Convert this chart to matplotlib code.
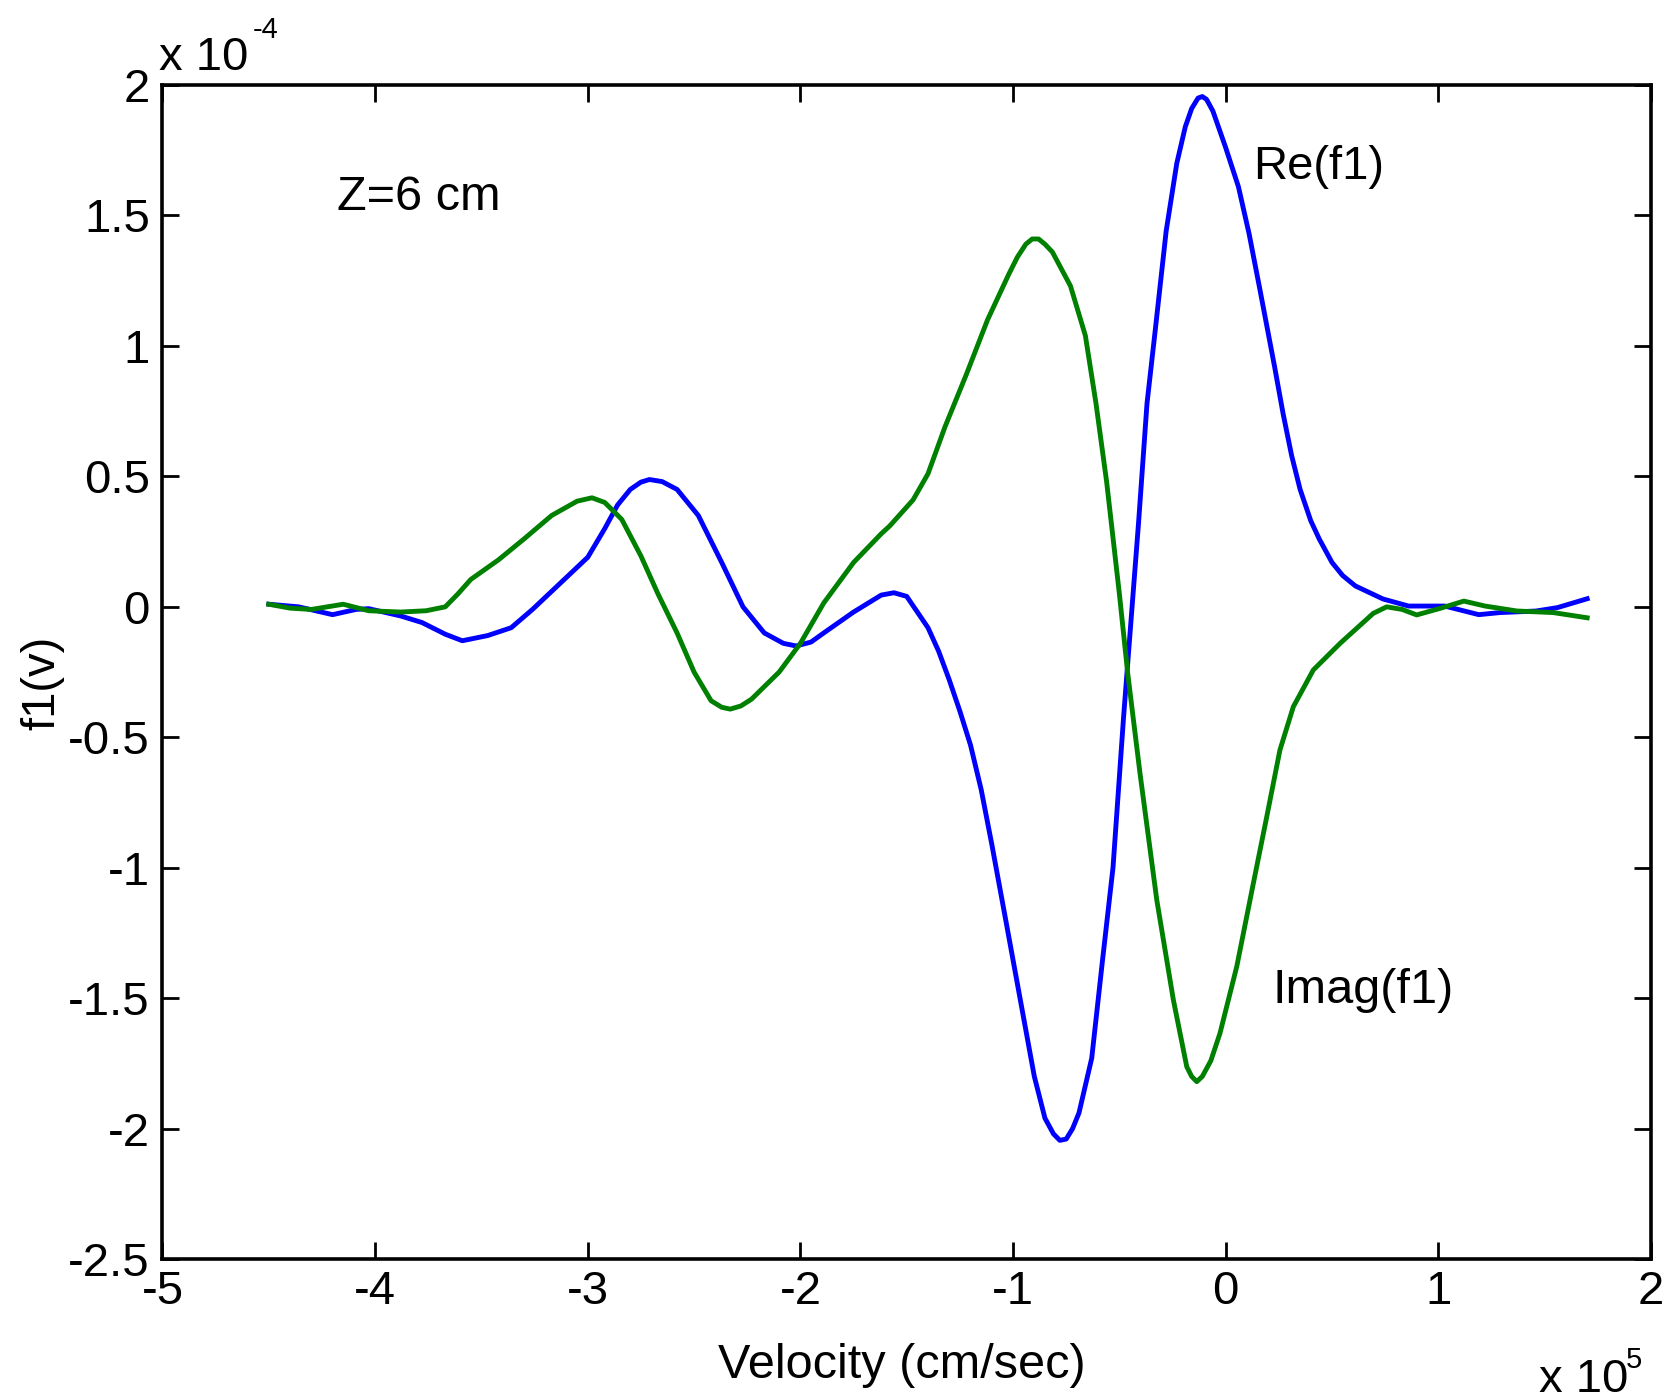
import matplotlib
matplotlib.use('Agg')
import matplotlib.pyplot as plt

plt.rcParams['font.family'] = ['Liberation Sans', 'DejaVu Sans']

## Data (velocity in units of 1e5 cm/sec, f1 in units of 1e-4)
v_re = [-4.50, -4.36, -4.20, -4.09, -4.03, -3.88, -3.78, -3.67, -3.59, -3.47,
        -3.36, -3.26, -3.13, -3.00, -2.92, -2.86, -2.80, -2.75, -2.71, -2.65,
        -2.58, -2.48, -2.37, -2.27, -2.17, -2.08, -2.02, -1.95, -1.89, -1.75,
        -1.62, -1.56, -1.50, -1.45, -1.40, -1.35, -1.30, -1.25, -1.20, -1.15,
        -1.10, -1.03, -0.965, -0.90, -0.85, -0.81, -0.78, -0.75, -0.72, -0.69,
        -0.63, -0.58, -0.53, -0.48, -0.445, -0.41, -0.37, -0.33, -0.28, -0.23,
        -0.19, -0.16, -0.13, -0.11, -0.09, -0.06, -0.03, 0.00, 0.06, 0.11,
        0.16, 0.23, 0.27, 0.31, 0.35, 0.40, 0.44, 0.50, 0.55, 0.61,
        0.74, 0.86, 1.03, 1.19, 1.29, 1.46, 1.56, 1.70]
re_f1 = [0.01, 0.00, -0.03, -0.01, -0.007, -0.035, -0.06, -0.105, -0.13, -0.11,
         -0.08, -0.01, 0.09, 0.19, 0.30, 0.39, 0.45, 0.478, 0.488, 0.48,
         0.45, 0.35, 0.17, 0.00, -0.10, -0.14, -0.15, -0.135, -0.10, -0.02,
         0.045, 0.054, 0.04, -0.02, -0.08, -0.17, -0.28, -0.40, -0.53, -0.70,
         -0.91, -1.22, -1.51, -1.80, -1.96, -2.02, -2.045, -2.04, -2.00, -1.94,
         -1.73, -1.36, -1.00, -0.42, -0.05, 0.32, 0.78, 1.07, 1.44, 1.70,
         1.84, 1.91, 1.95, 1.956, 1.945, 1.90, 1.83, 1.76, 1.61, 1.43,
         1.22, 0.92, 0.74, 0.58, 0.45, 0.33, 0.26, 0.17, 0.12, 0.08,
         0.03, 0.003, 0.003, -0.03, -0.022, -0.016, -0.003, 0.031]

v_im = [-4.50, -4.40, -4.30, -4.15, -4.03, -3.88, -3.76, -3.67, -3.61, -3.55,
        -3.42, -3.30, -3.17, -3.05, -2.98, -2.92, -2.84, -2.75, -2.67, -2.58,
        -2.50, -2.42, -2.37, -2.33, -2.28, -2.23, -2.10, -2.00, -1.89, -1.75,
        -1.62, -1.58, -1.47, -1.40, -1.32, -1.22, -1.12, -1.02, -0.98, -0.94,
        -0.91, -0.88, -0.85, -0.815, -0.73, -0.66, -0.61, -0.56, -0.50, -0.46,
        -0.403, -0.324, -0.246, -0.183, -0.16, -0.136, -0.11, -0.07, -0.027, 0.052,
        0.130, 0.193, 0.255, 0.318, 0.412, 0.538, 0.694, 0.757, 0.83, 0.898,
        1.008, 1.12, 1.22, 1.37, 1.54, 1.70]
im_f1 = [0.01, -0.005, -0.01, 0.01, -0.015, -0.02, -0.015, 0.00, 0.05, 0.105,
         0.18, 0.26, 0.35, 0.405, 0.418, 0.40, 0.335, 0.195, 0.05, -0.10,
         -0.25, -0.36, -0.385, -0.392, -0.38, -0.354, -0.25, -0.14, 0.015, 0.17,
         0.28, 0.31, 0.41, 0.51, 0.69, 0.89, 1.10, 1.275, 1.34, 1.39,
         1.41, 1.41, 1.39, 1.36, 1.23, 1.04, 0.78, 0.48, 0.05, -0.26,
         -0.638, -1.124, -1.507, -1.763, -1.80, -1.82, -1.80, -1.74, -1.635, -1.379,
         -1.06, -0.805, -0.549, -0.383, -0.242, -0.14, -0.025, 0.00, -0.01, -0.031,
         -0.006, 0.022, 0.003, -0.016, -0.022, -0.042]

x_ticks = [-5, -4, -3, -2, -1, 0, 1, 2]
y_ticks = [-2.5, -2, -1.5, -1, -0.5, 0, 0.5, 1, 1.5, 2]


## Plot
fig = plt.figure(figsize=(16.68, 13.92), dpi=100)
ax = fig.add_axes([0.0974, 0.0955, 0.8924, 0.8434])

ax.plot(v_re, re_f1, color=(0, 0, 1), lw=3.5)
ax.plot(v_im, im_f1, color=(0, 0.5, 0), lw=3.5)

ax.set_xlim(-5, 2)
ax.set_ylim(-2.5, 2)
ax.set_xticks(x_ticks)
ax.set_yticks(y_ticks)
ax.set_xticklabels(['%g' % t for t in x_ticks])
ax.set_yticklabels(['%g' % t for t in y_ticks])
ax.tick_params(direction='in', length=12, width=2, labelsize=34,
               top=True, right=True)
ax.tick_params(axis='y', pad=9)
ax.tick_params(axis='x', pad=8)
for sp in ax.spines.values():
    sp.set_linewidth(2.6)

ax.set_xlabel('Velocity (cm/sec)', fontsize=35)
ax.xaxis.set_label_coords(0.497, -0.1015)
ax.xaxis.label.set_va('baseline')
ax.set_ylabel('f1(v)', fontsize=34)
ax.yaxis.set_label_coords(-0.066, 0.4906)

# Annotations
ax.text(-4.177, 1.52, 'Z=6 cm', fontsize=35, va='baseline', ha='left')
ax.text(0.13, 1.641, 'Re(f1)', fontsize=34, va='baseline', ha='left')
ax.text(0.22, -1.52, 'Imag(f1)', fontsize=35, va='baseline', ha='left')

# MATLAB style exponent labels
ax.text(-0.002, 1.0128, 'x 10', transform=ax.transAxes, fontsize=34,
        ha='left', va='baseline')
ax.text(0.0608, 1.040, '-4', transform=ax.transAxes, fontsize=21,
        ha='left', va='baseline')
ax.text(0.9245, -0.1135, 'x 10', transform=ax.transAxes, fontsize=34,
        ha='left', va='baseline')
ax.text(0.983, -0.0928, '5', transform=ax.transAxes, fontsize=21,
        ha='left', va='baseline')

fig.savefig('out.png', dpi=100)
